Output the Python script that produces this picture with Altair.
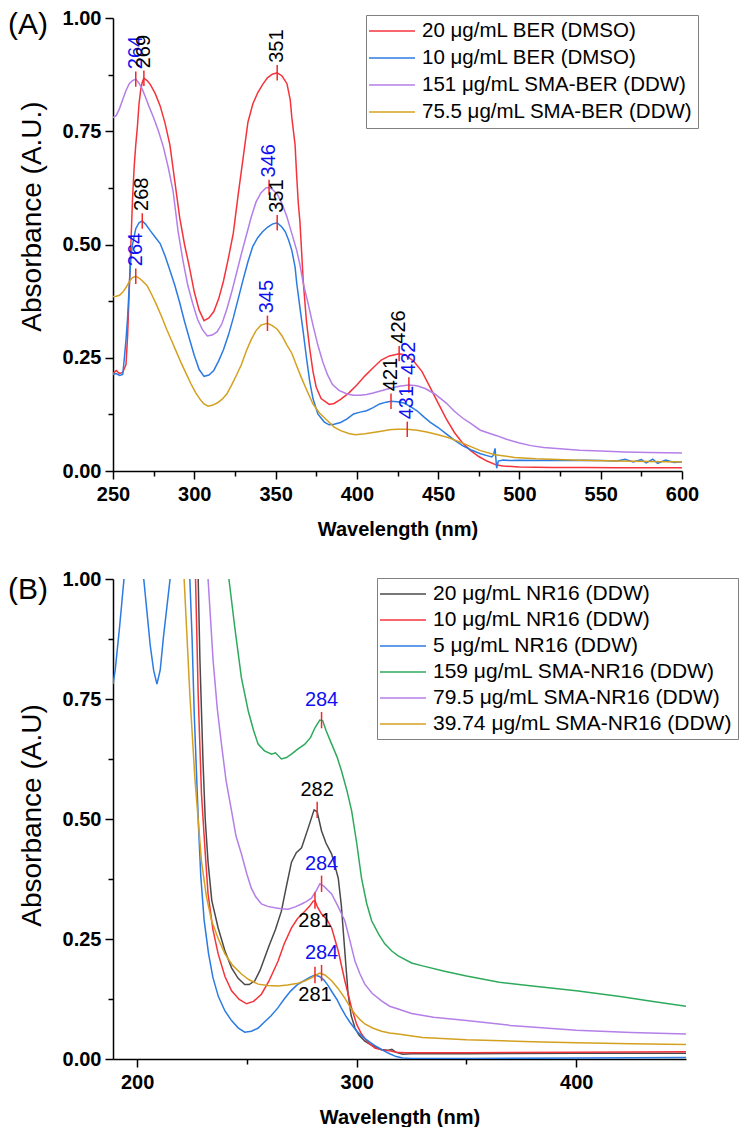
import altair as alt
import pandas as pd

# ---------------- Panel A : BER ----------------
a_names = ["20 μg/mL BER (DMSO)", "10 μg/mL BER (DMSO)",
           "151 μg/mL SMA-BER (DDW)", "75.5 μg/mL SMA-BER (DDW)"]
a_colors = ["#F5333B", "#2B7BE3", "#B47FE8", "#D4A020"]

a_red_wl = [250, 252, 254, 256, 258, 259, 260, 261, 262, 263, 264, 265, 266, 267, 268, 269, 271, 273, 276, 279,
            282, 285, 288, 291, 294, 297, 300, 303, 306, 309, 312, 315, 318, 321, 324, 327, 330, 333, 336, 339,
            342, 345, 348, 351, 354, 357, 359, 360, 362, 363, 364, 365, 367, 369, 371, 373, 375, 378, 383, 386,
            390, 395, 400, 405, 410, 415, 420, 426, 430, 435, 440, 445, 450, 455, 460, 465, 470, 475, 480, 486,
            490, 500, 520, 540, 560, 580, 600]
a_red_ab = [.215, .222, .215, .218, .235, .30, .40, .50, .60, .67, .72, .76, .81, .84, .858, .867, .862, .853, .833, .806,
            .768, .72, .64, .56, .50, .45, .395, .355, .332, .338, .352, .38, .42, .47, .525, .61, .69, .77, .81, .835,
            .853, .868, .876, .879, .872, .855, .82, .78, .72, .65, .59, .55, .42, .33, .27, .22, .185, .16, .147, .149,
            .158, .172, .19, .21, .228, .245, .254, .259, .256, .242, .22, .185, .15, .115, .085, .062, .045, .032, .022, .013,
            .011, .009, .008, .008, .007, .007, .007]

a_blue_wl = [250, 252, 254, 256, 257, 258, 259, 260, 261, 262, 264, 266, 268, 270, 273, 276, 279, 282, 285, 288,
             291, 294, 297, 300, 303, 306, 309, 312, 315, 318, 321, 324, 327, 330, 333, 336, 339, 342, 345, 348,
             351, 354, 356, 358, 360, 362, 363, 365, 367, 369, 371, 373, 376, 380, 383, 386, 390, 394, 398, 402,
             406, 410, 414, 418, 421, 425, 429, 433, 437, 441, 445, 450, 455, 460, 465, 470, 476, 480, 483, 484,
             485, 486, 487, 490, 495, 500, 510, 520, 530, 540, 550, 560, 565, 570, 575, 578, 582, 585, 590, 595, 600]
a_blue_ab = [.213, .215, .211, .213, .25, .29, .34, .41, .47, .50, .535, .548, .552, .545, .53, .516, .502, .475, .443, .41,
             .372, .33, .292, .255, .224, .209, .212, .222, .243, .268, .30, .338, .38, .422, .462, .496, .515, .528, .538, .545,
             .548, .538, .528, .51, .487, .45, .415, .36, .307, .25, .198, .16, .126, .108, .102, .103, .107, .115, .126, .13,
             .133, .14, .148, .152, .154, .153, .15, .142, .133, .12, .108, .096, .082, .068, .056, .047, .038, .034, .031, .035,
             .05, .006, .022, .024, .023, .024, .023, .024, .023, .024, .023, .022, .026, .02, .025, .018, .026, .017, .024, .019, .02]

a_purple_wl = [250, 252, 254, 256, 258, 260, 262, 264, 266, 268, 270, 272, 275, 278, 281, 284, 287, 290, 293, 296,
               299, 302, 305, 308, 311, 314, 317, 320, 323, 326, 329, 332, 335, 338, 341, 344, 346, 348, 351, 354,
               357, 360, 363, 365, 367, 370, 373, 376, 379, 382, 385, 389, 394, 398, 402, 406, 410, 415, 420, 426,
               432, 437, 442, 448, 455, 460, 465, 470, 476, 480, 486, 492, 500, 507, 515, 525, 537, 550, 565, 580, 600]
a_purple_ab = [.78, .785, .80, .82, .84, .855, .862, .865, .856, .843, .825, .806, .78, .75, .715, .67, .617, .53, .465, .41,
               .37, .335, .312, .298, .30, .307, .325, .357, .395, .437, .48, .52, .56, .594, .614, .625, .626, .622, .611, .59,
               .561, .524, .487, .455, .415, .37, .322, .278, .241, .212, .191, .178, .17, .167, .167, .169, .172, .177, .182, .187,
               .19, .188, .182, .17, .15, .132, .117, .105, .09, .085, .078, .07, .062, .056, .052, .049, .046, .044, .042, .041, .04]

a_orange_wl = [250, 252, 254, 256, 258, 260, 262, 264, 266, 268, 271, 274, 277, 280, 283, 286, 289, 292, 295, 298,
               301, 304, 306, 308.5, 311, 314, 317, 320, 323, 326, 329, 332, 335, 338, 341, 345, 348, 351, 354, 357,
               360, 363, 366, 369, 373, 377, 382, 386, 390, 395, 399, 405, 410, 415, 420, 425, 431, 437, 443, 450,
               456, 462, 468, 476, 485, 497, 510, 537, 560, 580, 600]
a_orange_ab = [.385, .386, .388, .395, .405, .418, .427, .43, .426, .42, .409, .388, .365, .34, .313, .288, .263, .238, .215, .192,
               .172, .156, .148, .143, .145, .15, .158, .17, .19, .212, .235, .265, .29, .31, .322, .326, .321, .313, .298, .278,
               .26, .232, .205, .18, .148, .128, .111, .097, .089, .083, .08, .082, .085, .088, .091, .092, .092, .09, .086, .08,
               .074, .066, .057, .045, .036, .03, .027, .024, .022, .021, .02]

a_peak_wl = [264, 269, 351, 346, 268, 351, 264, 345, 426, 421, 432, 431]
a_peak_ab = [0.865, 0.867, 0.879, 0.626, 0.552, 0.548, 0.43, 0.326, 0.259, 0.154, 0.19, 0.092]
a_peak_kind = ["SMA", "free", "free", "SMA", "free", "free", "SMA", "SMA", "free", "free", "SMA", "SMA"]

# ---------------- Panel B : NR16 ----------------
b_names = ["20 μg/mL NR16 (DDW)", "10 μg/mL NR16 (DDW)", "5 μg/mL NR16 (DDW)",
           "159 μg/mL SMA-NR16 (DDW)", "79.5 μg/mL SMA-NR16 (DDW)", "39.74 μg/mL SMA-NR16 (DDW)"]
b_colors = ["#4A4A4A", "#F5333B", "#2B7BE3", "#2EAA5C", "#B47FE8", "#D4A020"]

b_black_wl = [226, 227.8, 228.6, 230, 231, 232.3, 234, 236.9, 240, 243, 246, 249, 251, 253.6, 256, 258, 260, 263, 265.7, 268,
              270.3, 272.5, 274.9, 277.9, 280.6, 282, 284, 286, 288.6, 291.6, 293, 294, 295, 296.1, 297.5, 299.2, 301, 303.7, 307, 311.3,
              314, 316, 318, 321, 325, 350, 400, 450]
b_black_ab = [1.25, 1.0, .83, .62, .50, .41, .33, .273, .225, .19, .168, .155, .155, .163, .185, .21, .235, .27, .308, .36,
              .41, .43, .44, .481, .519, .515, .475, .45, .427, .377, .32, .26, .20, .135, .09, .065, .05, .037, .028, .02,
              .018, .02, .014, .01, .011, .011, .012, .012]

b_red_wl = [225, 226.6, 227.8, 229.3, 231, 232.3, 234.5, 236.9, 240, 243, 246.5, 249.8, 253, 256.6, 260, 264.2, 267, 270.3, 273, 276.4,
            278.5, 280.2, 281, 282, 284, 286.5, 288.6, 291.6, 294.6, 297.7, 300, 302.2, 305, 308.3, 312, 315, 318, 322, 350, 400, 450]
b_red_ab = [1.3, 1.0, .76, .552, .43, .344, .27, .219, .172, .142, .124, .115, .12, .135, .162, .204, .24, .273, .292, .308,
            .318, .329, .33, .318, .302, .29, .273, .225, .163, .106, .072, .052, .035, .023, .018, .017, .014, .013, .013, .014, .015]

b_blue_wl = [189, 190, 191, 192, 193, 194, 196, 199, 201, 203, 204.5, 206, 207.5, 209, 210.5, 212, 213.5, 215, 217, 220,
             222.5, 224, 225, 226, 227, 228, 229, 230.5, 232.5, 234.5, 237, 240, 243, 246, 249, 252, 255, 258, 261, 264,
             267, 270, 273, 276, 279, 281, 283, 285, 287, 289, 291, 293, 295, 297, 300, 303, 306, 309, 312, 315,
             318, 321, 325, 350, 400, 450]
b_blue_ab = [.781, .81, .855, .90, .95, 1.0, 1.12, 1.2, 1.08, 1.0, .93, .86, .81, .781, .81, .88, .94, 1.0, 1.15, 1.3,
             1.15, 1.0, .88, .72, .60, .48, .38, .29, .22, .17, .13, .10, .08, .065, .056, .058, .064, .077, .09, .106,
             .125, .142, .155, .163, .171, .175, .172, .165, .153, .138, .124, .106, .09, .076, .058, .045, .035, .026, .018, .011,
             .005, .002, .001, .001, .002, .003]

b_green_wl = [238, 241.8, 244.5, 247.5, 250.6, 253, 255.1, 258, 261.2, 263, 265.7, 268, 270.3, 273, 276.4, 279, 281, 283.2, 284.5, 286,
              288.6, 291, 293.1, 295.5, 297.7, 300, 302.2, 304.5, 306.8, 310, 312.8, 316, 318.9, 325, 330, 340, 350, 365, 380, 400,
              420, 435, 450]
b_green_ab = [1.15, 1.0, .898, .794, .725, .685, .656, .642, .635, .638, .625, .628, .635, .645, .656, .67, .69, .706, .705, .685,
              .656, .63, .60, .56, .517, .45, .377, .325, .288, .26, .24, .225, .215, .20, .194, .183, .173, .16, .152, .142,
              .13, .12, .11]

b_purple_wl = [229, 232.3, 234.6, 236.5, 238.4, 240.5, 243, 245, 247.5, 250, 252, 254, 256.6, 259.5, 262.7, 265.5, 268.8, 272, 274.9, 277,
               279.4, 281.5, 283.2, 285, 288.6, 291.5, 294.6, 297, 299.2, 301.5, 303.7, 307, 311.3, 315, 318.9, 325, 335, 350, 370, 400,
               425, 450]
b_purple_ab = [1.3, 1.0, .83, .73, .656, .58, .517, .465, .427, .385, .356, .338, .323, .318, .315, .313, .312, .317, .323, .328,
               .335, .35, .365, .36, .344, .318, .288, .245, .204, .177, .156, .137, .121, .11, .104, .095, .087, .08, .07, .06,
               .055, .052]

b_orange_wl = [218, 221.4, 224, 226.3, 229.3, 231.5, 233.9, 237, 240, 243.5, 247.5, 251, 255.1, 259.5, 264.2, 268.5, 273.3, 276.5, 279.4, 281.5,
               283.2, 285.5, 288.6, 291.5, 294.6, 297, 299.2, 301.5, 303.7, 307.5, 311.3, 315, 318.9, 330, 350, 380, 400, 425, 450]
b_orange_ab = [1.2, 1.0, .76, .585, .412, .34, .288, .25, .219, .195, .177, .165, .156, .153, .152, .154, .158, .163, .169, .175,
               .179, .175, .163, .147, .127, .108, .094, .082, .073, .064, .058, .054, .052, .045, .04, .036, .034, .032, .03]

b_peak_wl = [284, 282, 284, 281, 284, 281]
b_peak_ab = [0.706, 0.519, 0.365, 0.33, 0.179, 0.175]
b_peak_kind = ["SMA", "free", "SMA", "free", "SMA", "free"]
b_peak_side = ["above", "above", "above", "below", "above", "below"]

# ---------------- tables ----------------
def long_table(names, wls, abss):
    rows = []
    for i, (n, w, a) in enumerate(zip(names, wls, abss)):
        for x, y in zip(w, a):
            rows.append({"series": n, "k": i, "wl": x, "ab": y})
    return pd.DataFrame(rows)

dfA = long_table(a_names, [a_red_wl, a_blue_wl, a_purple_wl, a_orange_wl],
                 [a_red_ab, a_blue_ab, a_purple_ab, a_orange_ab])
dfB = long_table(b_names, [b_black_wl, b_red_wl, b_blue_wl, b_green_wl, b_purple_wl, b_orange_wl],
                 [b_black_ab, b_red_ab, b_blue_ab, b_green_ab, b_purple_ab, b_orange_ab])
pkA = pd.DataFrame({"wl": a_peak_wl, "ab": a_peak_ab, "kind": a_peak_kind,
                    "label": [str(v) for v in a_peak_wl]})
pkB = pd.DataFrame({"wl": b_peak_wl, "ab": b_peak_ab, "kind": b_peak_kind, "side": b_peak_side,
                    "label": [str(v) for v in b_peak_wl]})

SANS = "Liberation Sans"
MARK_RED = "#F02828"
LABEL_FILL = alt.Scale(domain=["free", "SMA"], range=["#000000", "#1010F0"])


def axis_major(values, title, orient, fmt=None, title_xy=None):
    kw = dict(values=values, title=title, orient=orient, grid=False, labelFlush=False,
              domainColor="black", domainWidth=1.5, tickColor="black", tickWidth=1.5, tickSize=8,
              labelFont=SANS, labelFontWeight="bold", labelFontSize=20, labelColor="black",
              labelPadding=5 if orient == "bottom" else 4)
    if fmt:
        kw["format"] = fmt
    if orient == "bottom":
        kw.update(titleFont=SANS, titleFontWeight="bold", titleFontSize=20, titleColor="black",
                  titlePadding=15)
    else:
        kw.update(titleFont=SANS, titleFontWeight="normal", titleFontSize=28, titleColor="black",
                  titleX=title_xy[0], titleY=title_xy[1])
    return alt.Axis(**kw)


def axis_minor(values, orient):
    return alt.Axis(values=values, orient=orient, labels=False, title=None, domain=False, grid=False,
                    tickColor="black", tickWidth=1.5, tickSize=5)


def panel(df, pk, names, colors, xdom, xmaj, xmin, width, height, legend_xy, leg_font, row_pad, letter,
          ytitle, ytitle_xy, rotated_labels):
    xs = alt.Scale(domain=xdom, nice=False, zero=False)
    ys = alt.Scale(domain=[0, 1], nice=False, zero=False)
    ymaj = [0, 0.25, 0.5, 0.75, 1.0]
    ymin = [0.125, 0.375, 0.625, 0.875]
    legend = alt.Legend(title=None, orient="none", legendX=legend_xy[0], legendY=legend_xy[1],
                        symbolType="M-2.3,0H2.3", symbolSize=400, symbolStrokeWidth=1.5,
                        symbolOffset=10, labelOffset=19, labelFont=SANS, labelFontSize=leg_font,
                        labelColor="black", labelLimit=600, rowPadding=row_pad, padding=5,
                        strokeColor="#808080", fillColor="white")
    lines = alt.Chart(df).mark_line(strokeWidth=1.5, clip=True).encode(
        x=alt.X("wl:Q", scale=xs, axis=axis_major(xmaj, "Wavelength (nm)", "bottom")),
        y=alt.Y("ab:Q", scale=ys, axis=axis_major(ymaj, ytitle, "left", ".2f", ytitle_xy)),
        color=alt.Color("series:N", scale=alt.Scale(domain=names, range=colors), legend=legend),
        detail="k:O",
    )
    base_pk = alt.Chart(pk)
    minor = base_pk.mark_point(opacity=0, size=1).encode(
        x=alt.X("wl:Q", scale=xs, axis=axis_minor(xmin, "bottom")),
        y=alt.Y("ab:Q", scale=ys, axis=axis_minor(ymin, "left")),
    )
    markers = base_pk.mark_rule(color=MARK_RED, strokeWidth=1.5).transform_calculate(
        lo="datum.ab - 0.017", hi="datum.ab + 0.017"
    ).encode(
        x=alt.X("wl:Q", scale=xs, axis=None),
        y=alt.Y("lo:Q", scale=ys, axis=None),
        y2="hi:Q",
    )
    layers = [lines, minor, markers]
    if rotated_labels:
        txt = base_pk.mark_text(angle=270, align="left", baseline="middle", dx=10,
                                font=SANS, fontSize=20).encode(
            x=alt.X("wl:Q", scale=xs, axis=None),
            y=alt.Y("ab:Q", scale=ys, axis=None),
            text="label:N",
            fill=alt.Fill("kind:N", scale=LABEL_FILL, legend=None),
        )
        layers.append(txt)
    else:
        for side, off in (("above", -20), ("below", 20)):
            layers.append(base_pk.transform_filter(alt.datum.side == side).mark_text(
                align="center", baseline="middle", dy=off, font=SANS, fontSize=20).encode(
                x=alt.X("wl:Q", scale=xs, axis=None),
                y=alt.Y("ab:Q", scale=ys, axis=None),
                text="label:N",
                fill=alt.Fill("kind:N", scale=LABEL_FILL, legend=None),
            ))
    tag = alt.Chart(pd.DataFrame({"t": [letter[0]]})).mark_text(
        align="left", baseline="top", font=SANS, fontSize=30, color="black").encode(
        x=alt.value(-105), y=alt.value(letter[1]), text="t:N")
    layers.append(tag)
    return alt.layer(*layers).resolve_axis(x="independent", y="independent").properties(
        width=width, height=height)


chartA = panel(dfA, pkA, a_names, a_colors, [250, 600], list(range(250, 601, 50)),
               list(range(275, 600, 50)), 569, 453, (253, -3), 20.5, 5, ("(A)", -8),
               "Absorbance (A.U.)", (-67, 198), True)
chartB = panel(dfB, pkB, b_names, b_colors, [189, 450], [200, 300, 400], [250, 350],
               573, 480, (264, -1), 21, 5, ("(B)", -4),
               "Absorbance (A.U)", (-67, 236), False)

chart = alt.vconcat(chartA, chartB, spacing=30).resolve_scale(
    color="independent"
).configure_view(stroke=None).properties(
    padding={"left": 0, "top": 0, "right": 5, "bottom": 0}
)

chart.save("out.html", embed_options={"renderer": "svg", "actions": False})
